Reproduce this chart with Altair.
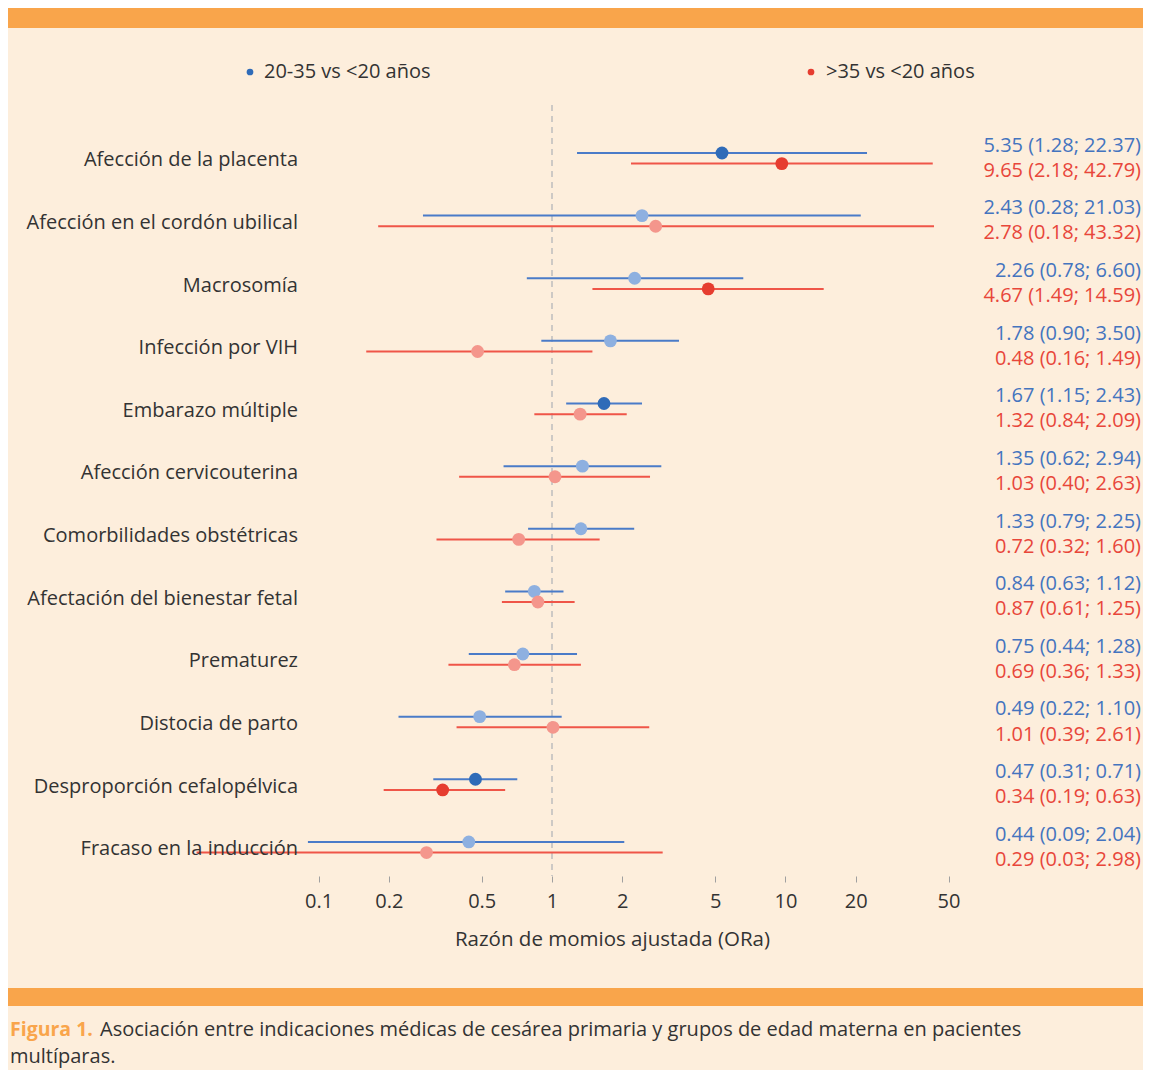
import altair as alt
import pandas as pd

# ---------------- data ----------------
categories = [
    "Afección de la placenta",
    "Afección en el cordón ubilical",
    "Macrosomía",
    "Infección por VIH",
    "Embarazo múltiple",
    "Afección cervicouterina",
    "Comorbilidades obstétricas",
    "Afectación del bienestar fetal",
    "Prematurez",
    "Distocia de parto",
    "Desproporción cefalopélvica",
    "Fracaso en la inducción",
]
blue_or = [5.35, 2.43, 2.26, 1.78, 1.67, 1.35, 1.33, 0.84, 0.75, 0.49, 0.47, 0.44]
blue_lo = [1.28, 0.28, 0.78, 0.90, 1.15, 0.62, 0.79, 0.63, 0.44, 0.22, 0.31, 0.09]
blue_hi = [22.37, 21.03, 6.60, 3.50, 2.43, 2.94, 2.25, 1.12, 1.28, 1.10, 0.71, 2.04]
red_or = [9.65, 2.78, 4.67, 0.48, 1.32, 1.03, 0.72, 0.87, 0.69, 1.01, 0.34, 0.29]
red_lo = [2.18, 0.18, 1.49, 0.16, 0.84, 0.40, 0.32, 0.61, 0.36, 0.39, 0.19, 0.03]
red_hi = [42.79, 43.32, 14.59, 1.49, 2.09, 2.63, 1.60, 1.25, 1.33, 2.61, 0.63, 2.98]
series_names = ["20-35 vs <20 años", ">35 vs <20 años"]
tick_values = [0.1, 0.2, 0.5, 1, 2, 5, 10, 20, 50]
x_title = "Razón de momios ajustada (ORa)"
caption_lead = "Figura 1."
caption_line1 = "Asociación entre indicaciones médicas de cesárea primaria y grupos de edad materna en pacientes"
caption_line2 = "multíparas."

# ---------------- styling ----------------
FONT = "Open Sans"
FS = 20
CAP_FS = 19.5
BG = "#fdeedc"
ORANGE = "#f9a54b"
TXT = "#333333"
LINE_COL = {"blue": "#4a7bc8", "red": "#ef5548"}
TEXT_COL = {"blue": "#4474bf", "red": "#e8463a"}
DOT_COL = {"blue_sig": "#2f6bb8", "blue_ns": "#8eb0e0",
           "red_sig": "#e63d30", "red_ns": "#f4968c"}

W, H = 844, 771
PAD = {"left": 182, "top": 97, "right": 109, "bottom": 194}
Y_DOMAIN = [-0.851, 11.459]
X_DOMAIN = [0.02812, 116.17]
DOT_OFF = 0.085
TXT_OFF = 0.2

rows = []
for i, c in enumerate(categories):
    for key, o, lo, hi, off, toff in [
        ("blue", blue_or[i], blue_lo[i], blue_hi[i], -DOT_OFF, -TXT_OFF),
        ("red", red_or[i], red_lo[i], red_hi[i], DOT_OFF, TXT_OFF),
    ]:
        sig = "sig" if (lo > 1 or hi < 1) else "ns"
        rows.append({
            "cat": c, "idx": i, "series": key,
            "or": o, "lo": lo, "hi": hi,
            "pos": i + off, "tpos": i + toff,
            "shade": f"{key}_{sig}",
            "label": f"{o:.2f} ({lo:.2f}; {hi:.2f})",
        })
df = pd.DataFrame(rows)
cat_df = pd.DataFrame({"cat": categories, "idx": list(range(len(categories)))})

xscale = alt.Scale(type="log", domain=X_DOMAIN, nice=False, zero=False)
yscale = alt.Scale(domain=Y_DOMAIN, reverse=True, nice=False, zero=False)
xaxis = alt.Axis(values=tick_values, format="~g", domain=False, grid=False,
                 ticks=True, tickSize=6, tickColor="#a0a0a0", tickWidth=1,
                 labelFontSize=FS, labelColor=TXT, labelFont=FONT, labelPadding=9,
                 title=x_title, titleFontSize=FS + 0.5, titleFontWeight="normal",
                 titleColor=TXT, titleFont=FONT, titlePadding=18)

line_scale = alt.Scale(domain=list(LINE_COL.keys()), range=list(LINE_COL.values()))
text_scale = alt.Scale(domain=list(TEXT_COL.keys()), range=list(TEXT_COL.values()))
dot_scale = alt.Scale(domain=list(DOT_COL.keys()), range=list(DOT_COL.values()))

ref = alt.Chart(pd.DataFrame({"v": [1]})).mark_rule(
    color="#bdbdbd", strokeWidth=1.5, strokeDash=[6, 5]
).encode(x=alt.X("v:Q", scale=xscale, axis=xaxis))

whisk = alt.Chart(df).mark_rule(strokeWidth=2).encode(
    x=alt.X("lo:Q", scale=xscale, axis=xaxis),
    x2="hi:Q",
    y=alt.Y("pos:Q", scale=yscale, axis=None),
    color=alt.Color("series:N", scale=line_scale, legend=None),
)

dots = alt.Chart(df).mark_circle(size=165, opacity=1).encode(
    x=alt.X("or:Q", scale=xscale, axis=xaxis),
    y=alt.Y("pos:Q", scale=yscale, axis=None),
    color=alt.Color("shade:N", scale=dot_scale, legend=None),
)

vals = alt.Chart(df).mark_text(align="right", baseline="middle", fontSize=FS, font=FONT).encode(
    x=alt.value(951),
    y=alt.Y("tpos:Q", scale=yscale, axis=None),
    text="label:N",
    color=alt.Color("series:N", scale=text_scale, legend=None),
)

cats = alt.Chart(cat_df).mark_text(align="right", baseline="middle", fontSize=FS,
                                   font=FONT, color=TXT, dy=2).encode(
    x=alt.value(108),
    y=alt.Y("idx:Q", scale=yscale, axis=None),
    text="cat:N",
)

leg_df = pd.DataFrame({"name": series_names, "series": ["blue", "red"]})
leg_dot_b = alt.Chart(leg_df.iloc[[0]]).mark_circle(size=45, opacity=1, color=DOT_COL["blue_sig"]).encode(
    x=alt.value(60), y=alt.value(-33))
leg_dot_r = alt.Chart(leg_df.iloc[[1]]).mark_circle(size=45, opacity=1, color=DOT_COL["red_sig"]).encode(
    x=alt.value(621), y=alt.value(-33))
leg_txt_b = alt.Chart(leg_df.iloc[[0]]).mark_text(align="left", baseline="middle", fontSize=FS,
                                                   font=FONT, color=TXT).encode(
    x=alt.value(74), y=alt.value(-33), text="name:N")
leg_txt_r = alt.Chart(leg_df.iloc[[1]]).mark_text(align="left", baseline="middle", fontSize=FS,
                                                   font=FONT, color=TXT).encode(
    x=alt.value(636), y=alt.value(-33), text="name:N")

band_df = pd.DataFrame({"b": ["top", "bottom"]})
band_top = alt.Chart(band_df.iloc[[0]]).mark_rect(color=ORANGE).encode(
    x=alt.value(-182), x2=alt.value(953), y=alt.value(-97), y2=alt.value(-77))
band_bot = alt.Chart(band_df.iloc[[1]]).mark_rect(color=ORANGE).encode(
    x=alt.value(-182), x2=alt.value(953), y=alt.value(883), y2=alt.value(901))

cap_df = pd.DataFrame({"t": [caption_lead, caption_line1, caption_line2]})
cap_lead = alt.Chart(cap_df.iloc[[0]]).mark_text(align="left", baseline="middle", fontSize=CAP_FS,
                                                  font=FONT, fontWeight="bold", color=ORANGE).encode(
    x=alt.value(-180), y=alt.value(925), text="t:N")
cap_1 = alt.Chart(cap_df.iloc[[1]]).mark_text(align="left", baseline="middle", fontSize=CAP_FS + 0.5,
                                               font=FONT, color=TXT).encode(
    x=alt.value(-90), y=alt.value(925), text="t:N")
cap_2 = alt.Chart(cap_df.iloc[[2]]).mark_text(align="left", baseline="middle", fontSize=CAP_FS + 0.5,
                                               font=FONT, color=TXT).encode(
    x=alt.value(-180), y=alt.value(952), text="t:N")

chart = alt.layer(
    band_top, band_bot, ref, whisk, dots, vals, cats,
    leg_dot_b, leg_dot_r, leg_txt_b, leg_txt_r, cap_lead, cap_1, cap_2,
).resolve_scale(color="independent").properties(
    width=W, height=H,
    autosize=alt.AutoSizeParams(type="none"),
    padding=PAD,
    background=BG,
).configure_view(strokeWidth=0)

chart.save("out.html", embed_options={"renderer": "svg", "actions": False})
